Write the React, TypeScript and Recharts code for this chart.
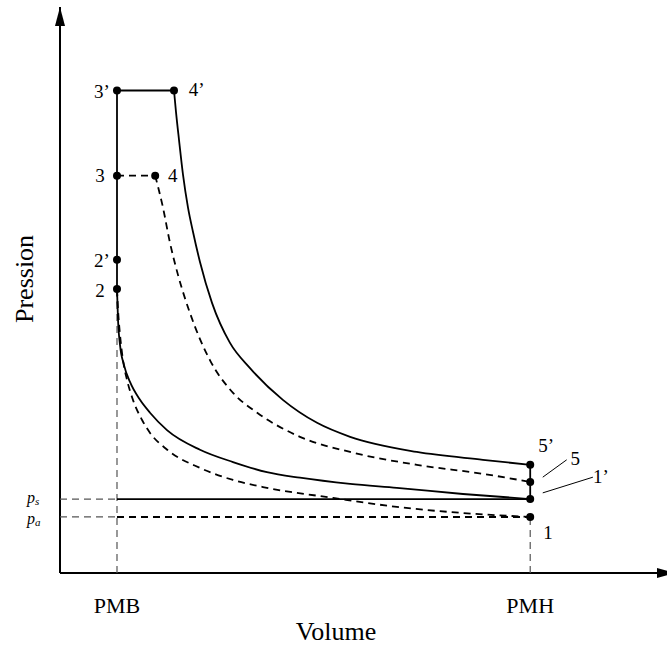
import { LineChart, Line, XAxis, YAxis, ReferenceLine, ReferenceDot } from "recharts";

const serif = '"Liberation Serif", "Times New Roman", serif';

const V_PMB = 1;
const V_PMH = 8.25;
const V_MAX = 10.65;
const P_MAX = 10.1;
const P_A = 1.0;
const P_S = 1.32;

const P_2 = 5.07;
const P_2p = 5.59;
const P_3 = 7.09;
const P_3p = 8.61;
const V_4 = 1.67;
const V_4p = 2.0;
const P_5p = 1.93;
const P_5 = 1.625;

// détente 4' -> 5' (trait plein)
const detente = [
  { v: 2.0, p: 8.61 }, { v: 2.035, p: 8.23 }, { v: 2.088, p: 7.73 }, { v: 2.158, p: 7.11 },
  { v: 2.246, p: 6.52 }, { v: 2.333, p: 6.09 }, { v: 2.456, p: 5.55 }, { v: 2.667, p: 4.82 },
  { v: 2.98, p: 4.11 }, { v: 3.33, p: 3.66 }, { v: 3.91, p: 3.09 }, { v: 4.51, p: 2.68 },
  { v: 5.09, p: 2.43 }, { v: 6.26, p: 2.16 }, { v: 7.42, p: 2.02 }, { v: 8.25, p: 1.93 },
];

// détente 4 -> 5 (pointillés)
const detenteTh = [
  { v: 1.67, p: 7.09 }, { v: 1.807, p: 6.52 }, { v: 1.93, p: 5.89 }, { v: 2.07, p: 5.32 },
  { v: 2.28, p: 4.64 }, { v: 2.63, p: 3.8 }, { v: 3.04, p: 3.21 }, { v: 3.46, p: 2.86 },
  { v: 4.21, p: 2.43 }, { v: 5.09, p: 2.16 }, { v: 6.26, p: 1.93 }, { v: 7.42, p: 1.77 },
  { v: 8.25, p: 1.625 },
];

// compression 1' -> 2 (trait plein)
const compression = [
  { v: 1.0, p: 5.07 }, { v: 1.018, p: 4.52 }, { v: 1.053, p: 4.07 }, { v: 1.123, p: 3.71 },
  { v: 1.228, p: 3.41 }, { v: 1.404, p: 3.09 }, { v: 1.579, p: 2.86 }, { v: 1.877, p: 2.55 },
  { v: 2.456, p: 2.2 }, { v: 3.035, p: 1.98 }, { v: 3.63, p: 1.8 }, { v: 4.21, p: 1.7 },
  { v: 5.09, p: 1.59 }, { v: 5.91, p: 1.52 }, { v: 7.07, p: 1.41 }, { v: 8.25, p: 1.32 },
];

// compression 1 -> 2 (pointillés)
const compressionTh = [
  { v: 1.0, p: 5.07 }, { v: 1.018, p: 4.7 }, { v: 1.053, p: 4.25 }, { v: 1.105, p: 3.8 },
  { v: 1.175, p: 3.45 }, { v: 1.28, p: 3.09 }, { v: 1.44, p: 2.73 }, { v: 1.58, p: 2.5 },
  { v: 1.88, p: 2.2 }, { v: 2.456, p: 1.875 }, { v: 3.035, p: 1.66 }, { v: 3.63, p: 1.52 },
  { v: 4.79, p: 1.34 }, { v: 5.91, p: 1.18 }, { v: 7.07, p: 1.07 }, { v: 8.25, p: 1.0 },
];

const points = [
  { v: V_PMB, p: P_3p }, { v: V_4p, p: P_3p }, { v: V_PMB, p: P_3 }, { v: V_4, p: P_3 },
  { v: V_PMB, p: P_2p }, { v: V_PMB, p: P_2 }, { v: V_PMH, p: P_5p }, { v: V_PMH, p: P_5 },
  { v: V_PMH, p: P_S }, { v: V_PMH, p: P_A },
];

const etiquettes = [
  { t: "3’", v: 0.737, p: 8.59 }, { t: "4’", v: 2.4, p: 8.625 }, { t: "3", v: 0.7, p: 7.09 },
  { t: "4", v: 1.98, p: 7.09 }, { t: "2’", v: 0.737, p: 5.57 }, { t: "2", v: 0.7, p: 5.05 },
  { t: "5’", v: 8.53, p: 2.27 }, { t: "5", v: 9.04, p: 2.04 }, { t: "1’", v: 9.49, p: 1.73 },
  { t: "1", v: 8.56, p: 0.73 },
];

const xTicks = [
  { v: V_PMB, t: "PMB" },
  { v: V_PMH, t: "PMH" },
];
const yTicks = [
  { p: P_S, t: "s", dy: 4 },
  { p: P_A, t: "a", dy: 7 },
];

const solid = { stroke: "#000", strokeWidth: 1.8, dot: false, isAnimationActive: false } as const;
const guide = { stroke: "#555", strokeWidth: 1.2, strokeDasharray: "7 5" };

export default function App() {
  return (
    <div style={{ position: "absolute", left: 0, top: 0, width: 667, height: 646, background: "#fff" }}>
      <LineChart width={667} height={646} margin={{ top: 7, right: 0, bottom: 73, left: 60 }}>
        <XAxis type="number" dataKey="v" domain={[0, V_MAX]} allowDataOverflow hide />
        <YAxis type="number" dataKey="p" domain={[0, P_MAX]} allowDataOverflow hide />

        {/* axes */}
        <ReferenceLine segment={[{ x: 0, y: 0 }, { x: 0, y: P_MAX }]} stroke="#000" strokeWidth={2} ifOverflow="visible" />
        <ReferenceLine segment={[{ x: 0, y: 0 }, { x: V_MAX, y: 0 }]} stroke="#000" strokeWidth={2} ifOverflow="visible" />

        {/* repères pointillés gris */}
        <ReferenceLine segment={[{ x: 0, y: P_S }, { x: V_PMB, y: P_S }]} {...guide} />
        <ReferenceLine segment={[{ x: 0, y: P_A }, { x: V_PMB, y: P_A }]} {...guide} />
        <ReferenceLine segment={[{ x: V_PMB, y: 0 }, { x: V_PMB, y: P_2 }]} {...guide} />
        <ReferenceLine segment={[{ x: V_PMH, y: 0 }, { x: V_PMH, y: P_A }]} {...guide} />

        {/* segments droits du cycle */}
        <Line data={[{ v: V_PMB, p: P_2 }, { v: V_PMB, p: P_3p }]} dataKey="p" type="linear" {...solid} />
        <Line data={[{ v: V_PMB, p: P_3p }, { v: V_4p, p: P_3p }]} dataKey="p" type="linear" {...solid} />
        <Line data={[{ v: V_PMB, p: P_3 }, { v: V_4, p: P_3 }]} dataKey="p" type="linear" {...solid} strokeDasharray="7 5" />
        <Line data={[{ v: V_PMH, p: P_S }, { v: V_PMH, p: P_5p }]} dataKey="p" type="linear" {...solid} />
        <Line data={[{ v: V_PMB, p: P_S }, { v: V_PMH, p: P_S }]} dataKey="p" type="linear" {...solid} />
        <Line data={[{ v: V_PMB, p: P_A }, { v: V_PMH, p: P_A }]} dataKey="p" type="linear" {...solid} strokeWidth={2} strokeDasharray="7 5" />

        {/* courbes */}
        <Line data={detente} dataKey="p" type="monotone" {...solid} />
        <Line data={detenteTh} dataKey="p" type="monotone" {...solid} strokeDasharray="7 5" />
        <Line data={compression} dataKey="p" type="monotone" {...solid} />
        <Line data={compressionTh} dataKey="p" type="monotone" {...solid} strokeDasharray="7 5" />

        {/* traits de rappel 5 et 1' */}
        <ReferenceLine segment={[{ x: 8.47, y: 1.71 }, { x: 8.89, y: 2.02 }]} stroke="#000" strokeWidth={1} />
        <ReferenceLine segment={[{ x: 8.47, y: 1.43 }, { x: 9.35, y: 1.71 }]} stroke="#000" strokeWidth={1} />

        {points.map((pt, i) => (
          <ReferenceDot key={"pt" + i} x={pt.v} y={pt.p} r={4} fill="#000" stroke="#000" strokeWidth={0} ifOverflow="visible" />
        ))}

        {etiquettes.map((e) => (
          <ReferenceDot
            key={e.t}
            x={e.v}
            y={e.p}
            ifOverflow="visible"
            shape={(props: any) => (
              <text x={props.cx} y={props.cy} textAnchor="middle" dominantBaseline="central" fontFamily={serif} fontSize={19} fill="#000">
                {e.t}
              </text>
            )}
          />
        ))}

        {/* graduations PMB / PMH */}
        {xTicks.map((tk) => (
          <ReferenceDot
            key={tk.t}
            x={tk.v}
            y={0}
            ifOverflow="visible"
            shape={(props: any) => (
              <text x={props.cx} y={props.cy + 40} textAnchor="middle" fontFamily={serif} fontSize={22} fill="#000">
                {tk.t}
              </text>
            )}
          />
        ))}

        {/* graduations p_s / p_a */}
        {yTicks.map((tk) => (
          <ReferenceDot
            key={tk.t}
            x={0}
            y={tk.p}
            ifOverflow="visible"
            shape={(props: any) => (
              <text x={props.cx - 33} y={props.cy + tk.dy} fontFamily={serif} fill="#000" fontStyle="italic">
                <tspan fontSize={16}>p</tspan>
                <tspan fontSize={11} dy={2}>{tk.t}</tspan>
              </text>
            )}
          />
        ))}

        {/* flèches des axes */}
        <ReferenceDot
          x={0}
          y={P_MAX}
          ifOverflow="visible"
          shape={(props: any) => (
            <path d={`M${props.cx},${props.cy} L${props.cx - 5},${props.cy + 19} L${props.cx + 5},${props.cy + 19} Z`} fill="#000" />
          )}
        />
        <ReferenceDot
          x={V_MAX}
          y={0}
          ifOverflow="visible"
          shape={(props: any) => (
            <path d={`M${props.cx + 9},${props.cy} L${props.cx - 10},${props.cy - 5} L${props.cx - 10},${props.cy + 5} Z`} fill="#000" />
          )}
        />

        <text x={336} y={640} textAnchor="middle" fontFamily={serif} fontSize={26} fill="#000">
          Volume
        </text>
        <text x={33} y={323} transform="rotate(-90, 33, 323)" fontFamily={serif} fontSize={26} fill="#000">
          Pression
        </text>
      </LineChart>
    </div>
  );
}
